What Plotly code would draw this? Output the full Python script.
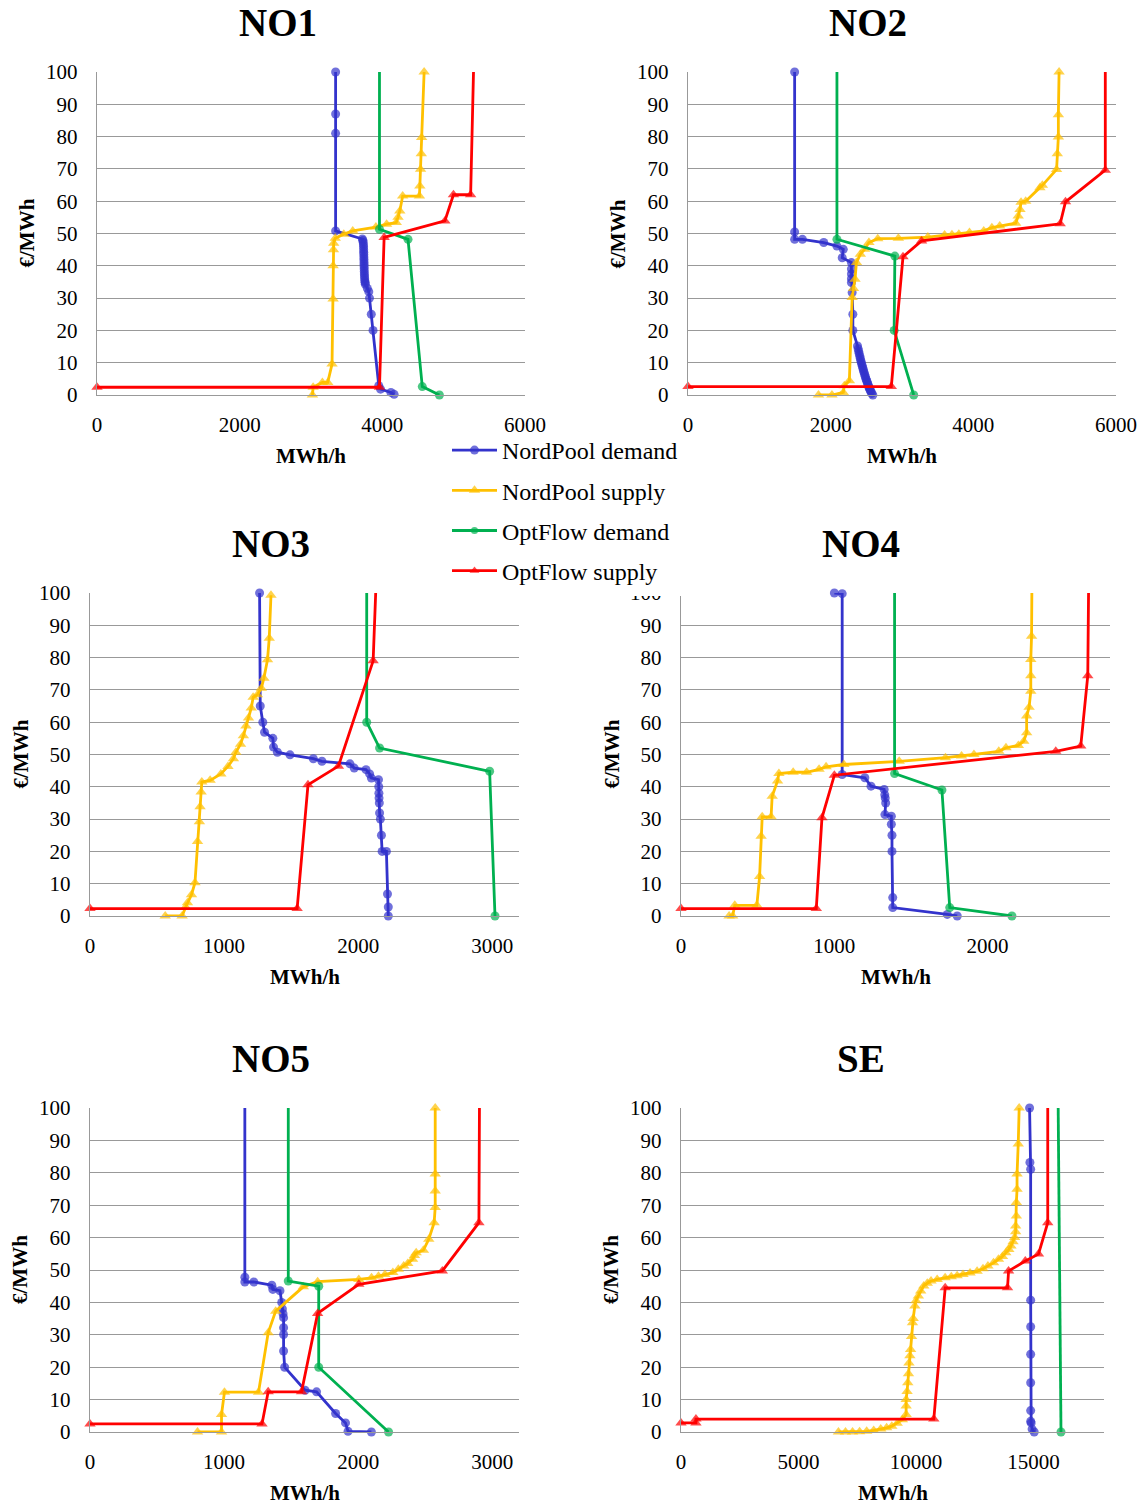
import plotly.graph_objects as go

# ---------------- bid curves: quantity (MWh/h) against price (€/MWh) ----------------
regions = ["NO1", "NO2", "NO3", "NO4", "NO5", "SE"]
series_names = ["NordPool demand", "NordPool supply", "OptFlow demand", "OptFlow supply"]

# NO1
no1_np_dem_x = [3345, 3345, 3345, 3345, 3720, 3728, 3732, 3735, 3737, 3738, 3739, 3740, 3741, 3742, 3743, 3744,
                3745, 3746, 3747, 3748, 3750, 3752, 3755, 3758, 3762, 3790, 3810, 3820, 3845, 3870, 3950, 3975,
                4120, 4165]
no1_np_dem_y = [100, 87, 81, 50.8, 48.3, 47.8, 47.2, 46.5, 45.8, 45, 44.2, 43.5, 42.7, 42, 41.2, 40.5,
                39.7, 39, 38.2, 37.5, 36.8, 36, 35.3, 34.8, 34.3, 33, 32, 30, 25, 20, 2.9, 1.8,
                0.8, 0.2]
no1_np_sup_x = [3020, 3030, 3160, 3235, 3295, 3310, 3310, 3315, 3318, 3340, 3460, 3585, 3910, 4060, 4195, 4220,
                4245, 4285, 4520, 4526, 4536, 4546, 4551, 4586]
no1_np_sup_y = [0, 2.4, 3.9, 3.9, 9.6, 29.7, 40, 45, 47, 48.5, 49.8, 50.8, 52, 52.9, 53.4, 55,
                57, 61.6, 61.6, 64.7, 69.9, 74.7, 79.7, 100]
no1_of_dem_x = [3960, 3960, 4360, 4560, 4800]
no1_of_dem_y = [100, 51.3, 48.2, 2.6, 0]
no1_of_sup_x = [0, 3960, 4025, 4877, 4997, 5238, 5278]
no1_of_sup_y = [2.4, 2.4, 48.8, 53.9, 62, 62, 100]

# NO2
no2_np_dem_x = [1495, 1495, 1495, 1604, 1903, 2088, 2177, 2162, 2291, 2291, 2291, 2291, 2291, 2301, 2311, 2311,
                2376, 2385, 2393, 2400, 2408, 2415, 2423, 2430, 2438, 2445, 2452, 2460, 2468, 2476, 2484,
                2492, 2500, 2508, 2516, 2524, 2532, 2540, 2548, 2556, 2565, 2576, 2591]
no2_np_dem_y = [100, 50.5, 48.2, 48.2, 47.2, 46.1, 45.1, 42.5, 41, 39, 37.5, 36, 34.8, 31.7, 25, 20,
                15.2, 14.3, 13.5, 12.8, 12, 11.3, 10.6, 10, 9.4, 8.8, 8.2, 7.6, 7, 6.4, 5.8,
                5.2, 4.7, 4.2, 3.7, 3.2, 2.7, 2.2, 1.8, 1.4, 1, 0.5, 0]
no2_np_sup_x = [1829, 2018, 2177, 2192, 2262, 2301, 2320, 2341, 2361, 2416, 2476, 2536, 2660, 2949, 3363, 3597,
                3700, 3797, 3946, 4146, 4260, 4370, 4594, 4629, 4654, 4669, 4734, 4933, 4968, 5167, 5177,
                5192, 5192, 5202]
no2_np_sup_y = [0, 0, 0.8, 2.9, 4.4, 30.2, 33, 35.8, 41, 43.6, 45.1, 47.2, 48.4, 48.5, 48.9, 49.5,
                49.6, 49.8, 50.3, 50.8, 51.8, 52.3, 53.2, 55.4, 57.4, 59.7, 60, 64.2, 64.9, 69.8, 74.7,
                79.9, 86.8, 100]
no2_of_dem_x = [2088, 2088, 2900, 2890, 3164]
no2_of_dem_y = [100, 48.2, 43, 20, 0]
no2_of_sup_x = [0, 2850, 3014, 3274, 5217, 5292, 5850, 5850]
no2_of_sup_y = [2.6, 2.6, 42.8, 47.7, 53, 59.8, 69.6, 100]

# NO3
no3_np_dem_x = [1265, 1270, 1289, 1302, 1364, 1369, 1398, 1492, 1666, 1730, 1939, 1971, 2059, 2086, 2099, 2152,
                2154, 2155, 2156, 2158, 2160, 2166, 2174, 2179, 2211, 2219, 2225, 2225]
no3_np_dem_y = [100, 65, 60, 56.9, 55, 52.3, 50.7, 49.9, 48.7, 47.9, 47.1, 45.8, 45.3, 44, 42.7, 42.2,
                40, 38, 36.5, 35, 31.9, 30, 25, 20, 20, 6.8, 2.8, 0]
no3_np_sup_x = [561, 687, 714, 727, 757, 783, 802, 816, 821, 829, 834, 896, 976, 1029, 1070, 1088,
                1123, 1144, 1163, 1182, 1203, 1217, 1249, 1278, 1297, 1324, 1337, 1350]
no3_np_sup_y = [0, 0, 2.8, 4.1, 6.6, 10.3, 23.1, 29.2, 33.8, 38.4, 41.5, 42, 44, 46.3, 48.7, 50.7,
                53.2, 55.8, 58.8, 61.3, 64.4, 67.7, 68.5, 70.5, 73.6, 79.3, 86, 99.3]
no3_of_dem_x = [2064, 2064, 2160, 2981, 3021]
no3_of_dem_y = [100, 60, 52, 44.8, 0]
no3_of_sup_x = [0, 1545, 1626, 1853, 2112, 2131]
no3_of_sup_y = [2.3, 2.3, 40.6, 46.4, 79, 100]

# NO4
no4_np_dem_x = [1001, 1052, 1052, 1200, 1240, 1326, 1330, 1333, 1336, 1331, 1373, 1373, 1377, 1377, 1382, 1382,
                1738, 1803]
no4_np_dem_y = [100, 99.8, 43.8, 42.8, 40.2, 39.2, 37.5, 36.5, 35, 31.4, 30.9, 28.4, 25, 20, 5.7, 2.6,
                0.5, 0]
no4_np_sup_x = [314, 337, 351, 495, 513, 523, 530, 588, 595, 630, 639, 732, 820, 901, 947, 1063,
                1424, 1726, 1831, 1912, 2074, 2121, 2202, 2237, 2256, 2256, 2272, 2283, 2283, 2283, 2288, 2290]
no4_np_sup_y = [0, 0, 3.3, 3.3, 12.2, 24.7, 30.7, 30.7, 37.1, 41.8, 44.1, 44.5, 44.5, 45.4, 46.2, 46.9,
                47.9, 49, 49.5, 50, 51, 52.1, 52.8, 54.1, 56.7, 61.9, 64.6, 69.6, 74.4, 79.4, 86.6, 100]
no4_of_dem_x = [1394, 1394, 1703, 1754, 2160]
no4_of_dem_y = [100, 44.1, 39, 2.6, 0]
no4_of_sup_x = [0, 883, 920, 1001, 2446, 2609, 2655, 2660]
no4_of_sup_y = [2.3, 2.3, 30.4, 43.6, 51, 52.6, 74.4, 100]

# NO5
no5_np_dem_x = [1155, 1155, 1155, 1222, 1356, 1364, 1417, 1430, 1435, 1440, 1444, 1444, 1444, 1444, 1452, 1604,
                1690, 1832, 1906, 1925, 2099]
no5_np_dem_y = [100, 47.8, 46.3, 46.3, 45.3, 44, 43.6, 40, 38, 36.5, 35.3, 32.2, 30.1, 25, 20, 12.9,
                12.4, 5.7, 2.8, 0.2, 0]
no5_np_sup_x = [802, 981, 981, 1003, 1257, 1329, 1385, 1591, 1698, 2005, 2100, 2152, 2200, 2259, 2300, 2340,
                2370, 2406, 2420, 2433, 2487, 2527, 2567, 2575, 2575, 2575, 2575]
no5_np_sup_y = [0, 0, 5.4, 12.3, 12.3, 30.6, 37.3, 44.8, 46.4, 47.1, 47.6, 48.1, 48.6, 49.2, 50.2, 51.2,
                52, 53.3, 54.5, 55.3, 56.1, 59.5, 64.6, 69.3, 74.4, 79.6, 100]
no5_of_dem_x = [1479, 1479, 1706, 1706, 2227]
no5_of_dem_y = [100, 46.6, 45, 20, 0]
no5_of_sup_x = [0, 1283, 1329, 1578, 1698, 2005, 2628, 2901, 2905]
no5_of_sup_y = [2.5, 2.5, 12.4, 12.4, 36.6, 45.6, 49.7, 64.6, 100]

# SE
se_np_dem_x = [14833, 14848, 14879, 14880, 14880, 14880, 14880, 14880, 14880, 14900, 14940, 15030]
se_np_dem_y = [100, 83.2, 81.1, 40.7, 32.5, 24, 15.2, 6.6, 3.3, 2.8, 0.9, 0]
se_np_sup_x = [6700, 7000, 7300, 7600, 7900, 8200, 8500, 8750, 8970, 9200, 9420, 9580, 9580, 9580, 9620, 9650,
               9680, 9700, 9740, 9770, 9810, 9850, 9880, 9950, 10000, 10100, 10200, 10330, 10480, 10640,
               10900, 11240, 11500, 11750, 12000, 12300, 12600, 12850, 13060, 13300, 13510, 13680, 13820,
               13950, 14040, 14130, 14200, 14240, 14240, 14270, 14270, 14300, 14300, 14350, 14390]
se_np_sup_y = [0, 0, 0, 0.1, 0.2, 0.5, 0.9, 1.3, 1.8, 2.7, 3.8, 5.4, 8, 10, 12.5, 15.2,
               18, 21.3, 23.5, 25.5, 29.5, 33.7, 35, 38.9, 40.5, 42, 43.5, 45.1, 45.9, 46.6,
               47.1, 47.6, 47.9, 48.2, 48.6, 49.1, 49.6, 50.4, 51.2, 52.2, 53.3, 54.2, 55.3,
               56.3, 57.4, 58.7, 60, 61.8, 63.6, 66.7, 70.8, 74.9, 79.6, 88.9, 100]
se_of_dem_x = [16050, 16170]
se_of_dem_y = [100, 0]
se_of_sup_x = [0, 636, 636, 10758, 11242, 13894, 13939, 14651, 15212, 15606, 15606]
se_of_sup_y = [2.8, 2.8, 4, 4, 44.5, 44.5, 49.7, 52.8, 54.9, 64.6, 100]

curves = {
    "NO1": [(no1_np_dem_x, no1_np_dem_y), (no1_np_sup_x, no1_np_sup_y),
            (no1_of_dem_x, no1_of_dem_y), (no1_of_sup_x, no1_of_sup_y)],
    "NO2": [(no2_np_dem_x, no2_np_dem_y), (no2_np_sup_x, no2_np_sup_y),
            (no2_of_dem_x, no2_of_dem_y), (no2_of_sup_x, no2_of_sup_y)],
    "NO3": [(no3_np_dem_x, no3_np_dem_y), (no3_np_sup_x, no3_np_sup_y),
            (no3_of_dem_x, no3_of_dem_y), (no3_of_sup_x, no3_of_sup_y)],
    "NO4": [(no4_np_dem_x, no4_np_dem_y), (no4_np_sup_x, no4_np_sup_y),
            (no4_of_dem_x, no4_of_dem_y), (no4_of_sup_x, no4_of_sup_y)],
    "NO5": [(no5_np_dem_x, no5_np_dem_y), (no5_np_sup_x, no5_np_sup_y),
            (no5_of_dem_x, no5_of_dem_y), (no5_of_sup_x, no5_of_sup_y)],
    "SE": [(se_np_dem_x, se_np_dem_y), (se_np_sup_x, se_np_sup_y),
           (se_of_dem_x, se_of_dem_y), (se_of_sup_x, se_of_sup_y)],
}

# curves that run on past the top of the price axis (no marker drawn at the edge)
open_top = {("NO1", 2), ("NO1", 3), ("NO2", 2), ("NO2", 3), ("NO3", 2), ("NO3", 3),
            ("NO4", 1), ("NO4", 2), ("NO4", 3), ("NO5", 0), ("NO5", 2), ("NO5", 3),
            ("SE", 2), ("SE", 3)}

# ---------------- styling / layout ----------------
W, H = 1147, 1505
FONT = "Liberation Serif, Times New Roman, serif"
colors = ["#3333CC", "#FFC000", "#00B050", "#FF0000"]
symbols = ["circle", "triangle-up", "circle", "triangle-up"]
msizes = [9, 10, 9, 10]
GRID = "#999999"

# x-axis extent and tick step per region
x_axis = {"NO1": (6000, 2000), "NO2": (6000, 2000), "NO3": (3200, 1000),
          "NO4": (2800, 1000), "NO5": (3200, 1000), "SE": (18000, 5000)}
# plot boxes in pixels: left, right, top, bottom
boxes = {"NO1": (97, 525, 72, 395), "NO2": (688, 1116, 72, 395),
         "NO3": (90, 519, 593, 916), "NO4": (681, 1110, 593, 916),
         "NO5": (90, 519, 1108, 1432), "SE": (681, 1104, 1108, 1432)}
title_pos = {"NO1": (278, 22), "NO2": (868, 22), "NO3": (271, 543),
             "NO4": (861, 543), "NO5": (271, 1058), "SE": (861, 1058)}
# white panel behind the shared legend (pixels: left, right, top, bottom)
legend_box = (440, 681, 433, 596)

fig = go.Figure()
layout = {}
annotations = []

for i, reg in enumerate(regions):
    sfx = "" if i == 0 else str(i + 1)
    for k, (xs, ys) in enumerate(curves[reg]):
        sizes = [0 if ((reg, k) in open_top and y >= 100) else msizes[k] for y in ys]
        fig.add_trace(go.Scatter(
            x=xs, y=ys, mode="lines+markers", name=series_names[k],
            legendgroup=series_names[k], showlegend=(i == 0),
            line=dict(color=colors[k], width=2.8),
            marker=dict(symbol=symbols[k], size=sizes, color=colors[k], line=dict(width=0)),
            cliponaxis=False, xaxis="x" + sfx, yaxis="y" + sfx,
        ))

    l, r, t, b = boxes[reg]
    xmax, xstep = x_axis[reg]
    layout["xaxis" + sfx] = dict(
        domain=[l / W, r / W], range=[0, xmax], tick0=0, dtick=xstep,
        showgrid=False, zeroline=False, showline=True, linecolor=GRID, linewidth=1.4,
        ticks="", tickformat="d", ticklabelstandoff=11, automargin=False,
        tickfont=dict(family=FONT, size=21, color="black"),
        anchor="y" + sfx, fixedrange=True,
    )
    layout["yaxis" + sfx] = dict(
        domain=[1 - b / H, 1 - t / H], range=[0, 100], tick0=0, dtick=10,
        showgrid=True, gridcolor=GRID, gridwidth=1.4,
        zeroline=False, showline=True, linecolor=GRID, linewidth=1.4,
        ticks="", ticklabelstandoff=14, automargin=False,
        tickfont=dict(family=FONT, size=21, color="black"),
        anchor="x" + sfx, fixedrange=True,
    )

    tx, ty = title_pos[reg]
    annotations.append(dict(text="<b>%s</b>" % reg, x=tx / W, y=1 - ty / H, xref="paper", yref="paper",
                            xanchor="center", yanchor="middle", showarrow=False,
                            font=dict(family=FONT, size=39, color="black")))
    annotations.append(dict(text="<b>MWh/h</b>", x=(l + r) / 2 / W, y=1 - (b + 61) / H,
                            xref="paper", yref="paper", xanchor="center", yanchor="middle",
                            showarrow=False, font=dict(family=FONT, size=21, color="black")))
    annotations.append(dict(text="<b>€/MWh</b>", x=(l - 70) / W, y=1 - (t + b) / 2 / H,
                            xref="paper", yref="paper", xanchor="center", yanchor="middle",
                            textangle=-90, showarrow=False,
                            font=dict(family=FONT, size=21, color="black")))

lx0, lx1, ly0, ly1 = legend_box
shapes = [dict(type="rect", xref="paper", yref="paper", layer="above",
               x0=lx0 / W, x1=lx1 / W, y0=1 - ly1 / H, y1=1 - ly0 / H,
               fillcolor="white", line=dict(width=0))]

fig.update_layout(
    width=W, height=H,
    margin=dict(l=0, r=0, t=0, b=0, autoexpand=False),
    paper_bgcolor="white", plot_bgcolor="white",
    annotations=annotations,
    shapes=shapes,
    showlegend=True,
    legend=dict(x=447 / W, y=1 - 428 / H, xanchor="left", yanchor="top",
                bgcolor="rgba(0,0,0,0)", borderwidth=0, itemwidth=45, tracegroupgap=6,
                font=dict(family=FONT, size=24, color="black")),
    **layout,
)

fig.write_html("out.html")
